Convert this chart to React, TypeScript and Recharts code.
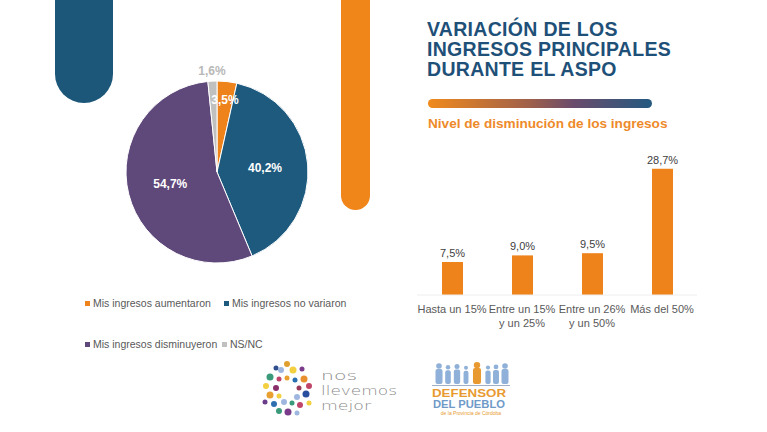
import { PieChart, Pie, Cell, BarChart, Bar, XAxis, YAxis, LabelList } from 'recharts';

const pieNames = ['Mis ingresos aumentaron', 'Mis ingresos no variaron', 'Mis ingresos disminuyeron', 'NS/NC'];
const pieValues = [3.5, 40.2, 54.7, 1.6];
const pieColors = ['#ee821b', '#1d5a7e', '#5f487a', '#c0c0c0'];

const barCategories = ['Hasta un 15%', 'Entre un 15%\ny un 25%', 'Entre un 26%\ny un 50%', 'Más del 50%'];
const barValues = [7.5, 9.0, 9.5, 28.7];

const pieData = pieNames.map((name, i) => ({ name, value: pieValues[i] }));
const barData = barCategories.map((name, i) => ({ name, value: barValues[i] }));

const fmt = (v: number) => v.toFixed(1).replace('.', ',') + '%';

const RAD = Math.PI / 180;

function pieLabel(props: any) {
    const { cx, cy, midAngle, outerRadius, value } = props;
    let r = outerRadius * 0.53;
    let fill = '#ffffff';
    if (value < 2) {
        r = outerRadius + 10;
        fill = '#b8b8b8';
    } else if (value < 5) {
        r = outerRadius * 0.8;
    }
    const x = cx + r * Math.cos(-midAngle * RAD);
    const y = cy + r * Math.sin(-midAngle * RAD);
    return (
        <text x={x} y={y} fill={fill} textAnchor="middle" dominantBaseline="central"
            style={{ fontFamily: 'Liberation Sans, Arial', fontSize: 12, fontWeight: 700 }}>
            {fmt(value)}
        </text>
    );
}

function CatTick(props: any) {
    const { x, y, payload } = props;
    const lines = String(payload.value).split('\n');
    return (
        <g transform={`translate(${x},${y})`}>
            {lines.map((l, i) => (
                <text key={i} x={0} y={i * 14} dy={10} textAnchor="middle" fill="#595959"
                    style={{ fontFamily: 'Liberation Sans, Arial', fontSize: 11 }}>
                    {l}
                </text>
            ))}
        </g>
    );
}

function Logos() {
    const dots = [
        [287, 364, 3, '#e0a030'], [276, 368, 2.5, '#2f4f8f'], [281, 370, 3, '#9fb7e0'], [293, 370, 3.5, '#f2d040'],
        [302, 369, 2.5, '#7a3c8a'], [270, 377, 3.5, '#3a9a7a'], [279, 379, 2.5, '#c0456a'], [287, 378, 2.5, '#e8a030'],
        [295, 380, 2.5, '#2a6fb0'], [304, 379, 3.5, '#e89030'], [266, 386, 3, '#f2d040'], [276, 388, 3, '#8b2f6a'],
        [299, 388, 2.5, '#9a3a5a'], [309, 386, 3, '#c0456a'], [270, 395, 3.5, '#e8a030'], [279, 396, 2.5, '#f2d040'],
        [297, 397, 3, '#9fb7e0'], [306, 394, 3.5, '#2a4f9f'], [265, 402, 2.5, '#6a3c8a'], [274, 404, 3, '#2f6fb0'],
        [284, 402, 3, '#9fb7e0'], [292, 403, 2.5, '#3a9a7a'], [300, 405, 3, '#c0456a'], [309, 403, 2.5, '#f2d040'],
        [279, 411, 3, '#3a9a7a'], [288, 412, 3.5, '#7a3c8a'], [297, 413, 2.5, '#9fb7e0'],
    ] as const;
    const people = [
        [439, 1], [448, 0.8], [457, 0.9], [466, 0.7], [477, 1.15], [488, 0.75], [496, 0.85], [505, 1],
    ];
    return (
        <svg width={767} height={432} style={{ position: 'absolute', left: 0, top: 0 }}>
            {dots.map((d, i) => (
                <circle key={i} cx={d[0]} cy={d[1]} r={d[2]} fill={d[3]} />
            ))}
            <g style={{ fontFamily: 'DejaVu Sans', fontWeight: 200 }} fill="#8a8a8a" fontSize={13}>
                <text x={321} y={380} textLength={36} lengthAdjust="spacingAndGlyphs">nos</text>
                <text x={321} y={395} textLength={76} lengthAdjust="spacingAndGlyphs">llevemos</text>
                <text x={321} y={410} textLength={50} lengthAdjust="spacingAndGlyphs">mejor</text>
            </g>
            {people.map((p, i) => (
                <g key={i} fill={i === 4 ? '#e89a30' : '#8fb0d8'}>
                    <circle cx={p[0]} cy={372 - 6 * p[1]} r={2.8 * p[1]} />
                    <rect x={p[0] - 3.5 * p[1]} y={375 - 6 * p[1]} width={7 * p[1]} height={9 + 6 * p[1]} rx={2} />
                </g>
            ))}
            <line x1={432} y1={385.5} x2={510} y2={385.5} stroke="#9fb0c8" strokeWidth={1} />
            <text x={432} y={397} fill="#e89a30" fontSize={10.5} fontWeight={700} textLength={74} lengthAdjust="spacingAndGlyphs"
                style={{ fontFamily: 'Liberation Sans, Arial' }}>DEFENSOR</text>
            <text x={433} y={408} fill="#6f9ac8" fontSize={10} fontWeight={700} textLength={72} lengthAdjust="spacingAndGlyphs"
                style={{ fontFamily: 'Liberation Sans, Arial' }}>DEL PUEBLO</text>
            <text x={471} y={415} textAnchor="middle" fill="#e89a30" fontSize={5}
                style={{ fontFamily: 'Liberation Sans, Arial' }}>de la Provincia de Córdoba</text>
        </svg>
    );
}

export default function App() {
    const legendItem = (i: number, left: number, top: number) => (
        <div key={i} style={{ position: 'absolute', left, top, display: 'flex', alignItems: 'center', whiteSpace: 'nowrap' }}>
            <span style={{ width: 5, height: 5, background: pieColors[i], marginRight: 3 }} />
            <span style={{ fontSize: 10.5, color: '#595959' }}>{pieNames[i]}</span>
        </div>
    );
    return (
        <div style={{ position: 'absolute', left: 0, top: 0, width: 767, height: 432, background: '#fff', overflow: 'hidden', fontFamily: 'Liberation Sans, Arial' }}>
            <div style={{ position: 'absolute', left: 55, top: -40, width: 58, height: 143, borderRadius: 29, background: '#1c5679' }} />
            <div style={{ position: 'absolute', left: 341, top: -40, width: 29, height: 250, borderRadius: 15, background: '#f0851a' }} />

            <div style={{ position: 'absolute', left: 92, top: 47 }}>
                <PieChart width={240} height={240}>
                    <Pie data={pieData} dataKey="value" cx={120} cy={120} outerRadius={91} startAngle={90} endAngle={-270}
                        stroke="#ffffff" strokeWidth={1} label={pieLabel} labelLine={false} isAnimationActive={false}>
                        {pieData.map((d, i) => (
                            <Cell key={d.name} fill={pieColors[i]} />
                        ))}
                    </Pie>
                </PieChart>
            </div>

            {legendItem(0, 85, 297)}
            {legendItem(1, 224, 297)}
            {legendItem(2, 85, 338)}
            {legendItem(3, 222, 338)}

            <div style={{ position: 'absolute', left: 427, top: 19, color: '#1e5078', fontWeight: 700, fontSize: 19.5, lineHeight: '20px', letterSpacing: 0.3 }}>
                VARIACIÓN DE LOS<br />INGRESOS PRINCIPALES<br />DURANTE EL ASPO
            </div>
            <div style={{ position: 'absolute', left: 428, top: 99, width: 224, height: 9, borderRadius: 5, background: 'linear-gradient(to right, #f08a1c, #a0604a 45%, #6a4c6c 65%, #245a80)' }} />
            <div style={{ position: 'absolute', left: 428, top: 116, color: '#ee8a2a', fontWeight: 700, fontSize: 13.6 }}>
                Nivel de disminución de los ingresos
            </div>

            <div style={{ position: 'absolute', left: 417, top: 140 }}>
                <BarChart width={280} height={200} data={barData} margin={{ top: 23, right: 0, bottom: 0, left: 0 }}>
                    <XAxis dataKey="name" axisLine={{ stroke: '#eeeeee' }} tickLine={false} interval={0} height={45} tick={<CatTick />} />
                    <YAxis hide domain={[0, 30]} />
                    <Bar dataKey="value" fill="#ee821b" barSize={21} isAnimationActive={false}>
                        <LabelList dataKey="value" position="top" formatter={(v: any) => fmt(Number(v))}
                            style={{ fill: '#404040', fontSize: 11, fontFamily: 'Liberation Sans, Arial' }} />
                    </Bar>
                </BarChart>
            </div>

            <Logos />
        </div>
    );
}
